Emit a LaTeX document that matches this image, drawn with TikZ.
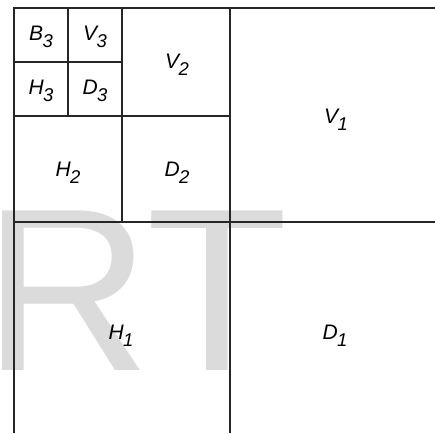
\documentclass[tikz,border=0pt]{standalone}
\usepackage{fontspec}
\setmainfont{Liberation Sans}
\newfontfamily\wmfont{Liberation Sans}
\newcommand{\lbl}[2]{{\itshape #1\kern-0.5pt\raisebox{-7.5pt}{\fontsize{18.5}{18.5}\selectfont\itshape #2}}}
\tikzset{
  grid/.style={draw=black!85, line width=1.1pt},
  lab/.style={font=\fontsize{21}{21}\selectfont, inner sep=0pt, text=black},
}
\begin{document}
\begin{tikzpicture}[x=1pt,y=-1pt]
\useasboundingbox (0,0) rectangle (435,433);
\node[font=\wmfont\fontsize{232}{232}\selectfont, text=black!14, anchor=base west, inner sep=0pt] (wm) at (-17,370) {RT};
% lines
\draw[grid] (14,433) -- (14,8) -- (435,8);
\draw[grid] (14,222) -- (435,222);
\draw[grid] (230,8) -- (230,433);
\draw[grid] (14,116) -- (230,116);
\draw[grid] (122,8) -- (122,222);
\draw[grid] (14,62) -- (122,62);
\draw[grid] (68,8) -- (68,116);
% labels
\node[lab] (b3) at (41,37) {\lbl{B}{3}};
\node[lab] (v3) at (95,37) {\lbl{V}{3}};
\node[lab] (h3) at (41,91) {\lbl{H}{3}};
\node[lab] (d3) at (95,91) {\lbl{D}{3}};
\node[lab] (v2) at (177,65) {\lbl{V}{2}};
\node[lab] (h2) at (68,173) {\lbl{H}{2}};
\node[lab] (d2) at (177,173) {\lbl{D}{2}};
\node[lab] (v1) at (336,120) {\lbl{V}{1}};
\node[lab] (h1) at (121,336) {\lbl{H}{1}};
\node[lab] (d1) at (335,336) {\lbl{D}{1}};
\end{tikzpicture}
\end{document}
